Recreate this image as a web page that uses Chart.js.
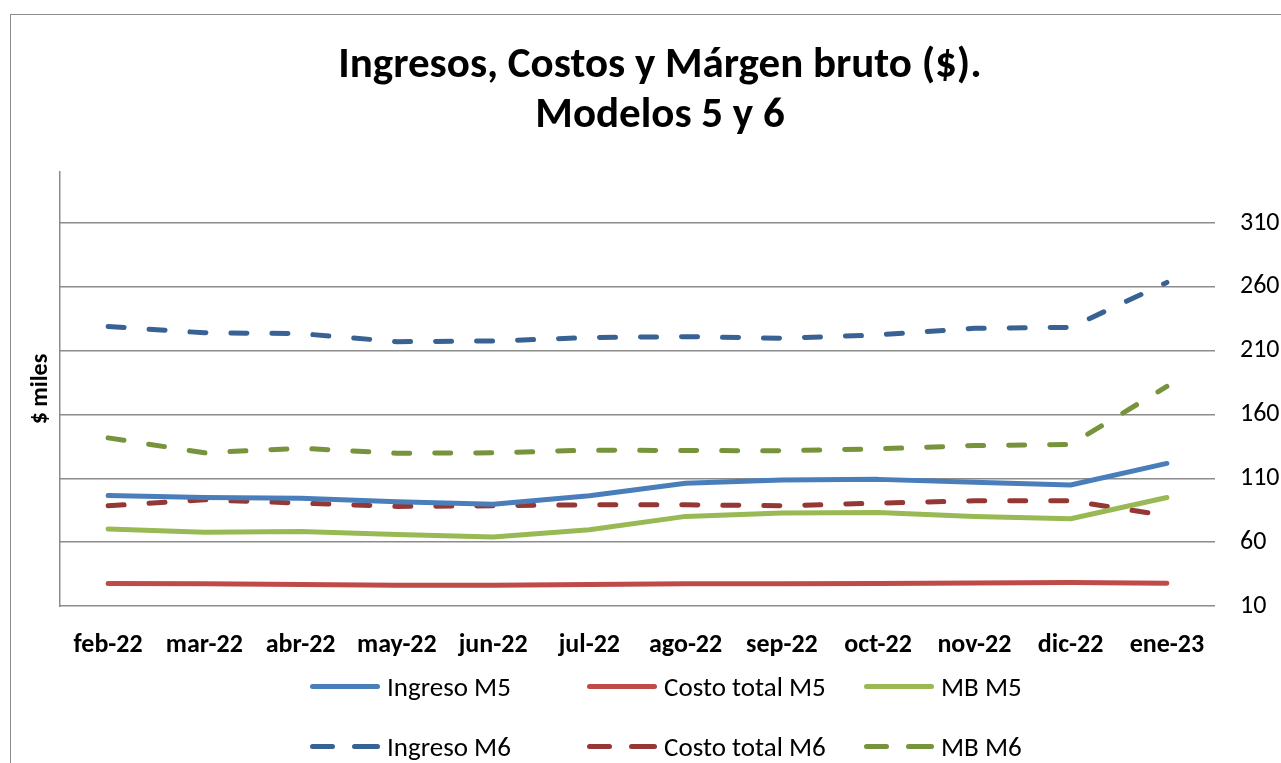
<!DOCTYPE html>
<html lang="es">
<head>
  <meta charset="UTF-8" />
  <title>Ingresos, Costos y Márgen bruto ($). Modelos 5 y 6</title>
  <script src="https://cdn.jsdelivr.net/npm/chart.js"></script>
  <style>
    html, body { margin: 0; padding: 0; background: #fff; overflow: hidden; }
    body { width: 1281px; height: 763px; position: relative; font-family: Carlito, Calibri, Lato, sans-serif; }
    #frame { position: absolute; left: 10px; top: 14px; width: 1400px; height: 900px; border: 1.5px solid #8c8c8c; box-sizing: border-box; }
    #chart { position: absolute; left: 0; top: 0; }
    #legend { position: absolute; left: 310px; top: 670px; display: grid; grid-template-columns: 277px 277px 277px; row-gap: 28px; }
    .item { display: flex; align-items: center; height: 32px; font-size: 27px; color: #000; }
    .sample { position: relative; width: 70px; height: 5px; margin-right: 7px; }
    .sample i { position: absolute; top: 0; height: 5px; border-radius: 3px; }
  </style>
</head>
<body>
  <div id="frame"></div>
  <canvas id="chart" width="1320" height="763"></canvas>
  <div id="legend"></div>

  <script>
    // Datos ($ miles)
    const months = ['feb-22', 'mar-22', 'abr-22', 'may-22', 'jun-22', 'jul-22', 'ago-22', 'sep-22', 'oct-22', 'nov-22', 'dic-22', 'ene-23'];
    const ingresoM5 = [96.5, 95, 94.5, 91.6, 89.8, 96.3, 106.1, 108.7, 109.2, 106.9, 104.8, 121.7];
    const costoM5 = [27.6, 27.4, 26.8, 26.3, 26.3, 26.8, 27.4, 27.4, 27.6, 28.1, 28.4, 27.9];
    const mbM5 = [70.4, 67.8, 68.3, 66, 64.1, 69.8, 80.2, 82.8, 83.3, 80.2, 78.4, 95];
    const ingresoM6 = [229, 224, 223.4, 217.1, 217.6, 220.3, 221, 219.7, 222.4, 227.5, 228.3, 263.5];
    const costoM6 = [88.5, 93.2, 90.6, 88, 88.5, 89.3, 89.3, 88.5, 90.6, 92.4, 92.4, 80.7];
    const mbM6 = [141.7, 130, 133.6, 129.7, 130, 132.1, 131.8, 131.6, 133.1, 135.7, 136.5, 182];
    const yTicks = [10, 60, 110, 160, 210, 260, 310];
    const yMin = 10;
    const yMax = 350;

    const FONT = 'Carlito, Calibri, Lato, sans-serif';
    const DASH = [16, 25];

    const series = [
      { label: 'Ingreso M5', data: ingresoM5, color: '#4a7ebb', dashed: false },
      { label: 'Costo total M5', data: costoM5, color: '#be4b48', dashed: false },
      { label: 'MB M5', data: mbM5, color: '#98b954', dashed: false },
      { label: 'Ingreso M6', data: ingresoM6, color: '#386293', dashed: true },
      { label: 'Costo total M6', data: costoM6, color: '#953735', dashed: true },
      { label: 'MB M6', data: mbM6, color: '#77933c', dashed: true }
    ];

    // Leyenda HTML (3 columnas, 2 filas)
    document.getElementById('legend').innerHTML = series.map(s => {
      const sample = s.dashed
        ? `<i style="left:0;width:25px;background:${s.color}"></i><i style="left:42px;width:28px;background:${s.color}"></i>`
        : `<i style="left:0;width:70px;background:${s.color}"></i>`;
      return `<div class="item"><span class="sample">${sample}</span>${s.label}</div>`;
    }).join('');

    new Chart(document.getElementById('chart'), {
      type: 'line',
      data: {
        labels: months,
        datasets: series.map(s => ({
          label: s.label,
          data: s.data,
          borderColor: s.color,
          backgroundColor: s.color,
          borderWidth: 5,
          borderDash: s.dashed ? DASH : [],
          borderCapStyle: 'round',
          borderJoinStyle: 'round',
          pointRadius: 0,
          tension: 0,
          yAxisID: 'y'
        }))
      },
      options: {
        responsive: false,
        animation: false,
        layout: { padding: { left: 0, right: 0, top: 0, bottom: 87 } },
        plugins: {
          legend: { display: false },
          tooltip: { enabled: false },
          title: {
            display: true,
            text: ['Ingresos, Costos y Márgen bruto ($).', 'Modelos 5 y 6'],
            color: '#000',
            font: { family: FONT, size: 43, weight: 'bold', lineHeight: '50px' },
            padding: { top: 41, bottom: 31 }
          }
        },
        scales: {
          x: {
            offset: true,
            grid: { display: false },
            border: { display: false },
            ticks: { color: '#000', font: { family: FONT, size: 26, weight: 'bold' }, padding: 16, maxRotation: 0, autoSkip: false },
            afterFit: s => { s.height = 70; }
          },
          y: {
            position: 'left',
            min: yMin,
            max: yMax,
            ticks: { display: false },
            grid: { display: false },
            border: { display: true, color: '#8c8c8c', width: 1.5 },
            title: {
              display: true,
              text: '$ miles',
              color: '#000',
              font: { family: FONT, size: 24, weight: 'bold' },
              padding: { top: 27, bottom: 0 }
            },
            afterFit: s => { s.width = 60; }
          },
          y2: {
            position: 'right',
            min: yMin,
            max: yMax,
            afterBuildTicks: s => { s.ticks = yTicks.map(v => ({ value: v })); },
            ticks: { color: '#000', font: { family: FONT, size: 26 }, padding: 25 },
            grid: { color: '#8c8c8c', lineWidth: 1.5, drawTicks: false },
            border: { display: false },
            afterFit: s => { s.width = 105; }
          }
        }
      }
    });
  </script>
</body>
</html>
